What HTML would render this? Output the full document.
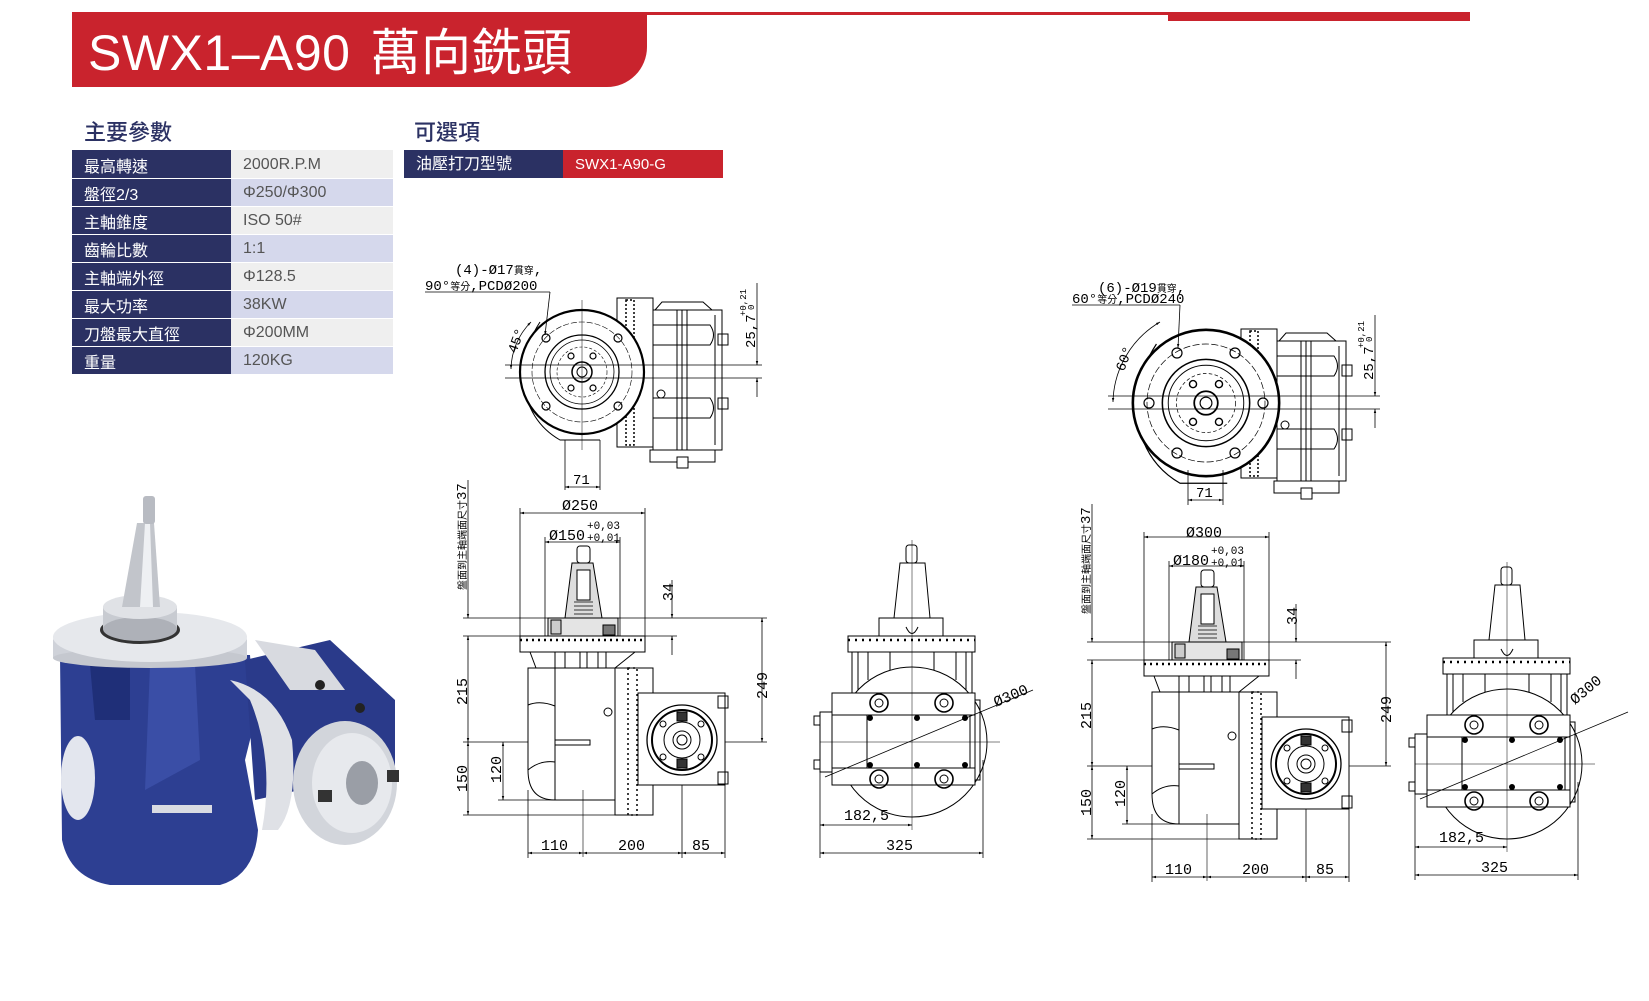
<!DOCTYPE html>
<html><head><meta charset="utf-8">
<style>
html,body{margin:0;padding:0;background:#fff;}
body{width:1649px;height:1001px;position:relative;overflow:hidden;font-family:"Liberation Sans","Noto Sans CJK TC",sans-serif;}
.abs{position:absolute;}
.band{left:72px;top:12px;width:575px;height:75px;background:#c9232d;border-bottom-right-radius:40px;}
.title{left:88px;top:18px;color:#fff;font-size:50px;line-height:62px;white-space:nowrap;letter-spacing:0.5px;}
.title span{font-size:50px;margin-left:20px;font-family:"Noto Sans CJK TC","Liberation Sans",sans-serif;}
.h2{font-size:22px;color:#2b3163;font-family:"Liberation Sans","Noto Sans CJK TC",sans-serif;font-weight:500;}
table{border-collapse:collapse;position:absolute;}
td{height:28px;padding:2px 0 0 12px;font-size:16px;border-bottom:1px solid #fff;box-sizing:border-box;}
td.l{background:#2b3163;color:#fff;width:159px;}
td.v{color:#555;width:162px;}
tr:nth-child(odd) td.v{background:#efefef;}
tr:nth-child(even) td.v{background:#d5d8ec;}
</style></head><body>
<div class="abs band"></div>
<div class="abs" style="left:647px;top:12px;width:521px;height:3px;background:#c9232d"></div>
<div class="abs" style="left:1168px;top:12px;width:302px;height:9px;background:#c9232d"></div>
<div class="abs title">SWX1–A90<span>萬向銑頭</span></div>
<div class="abs h2" style="left:84px;top:115px">主要參數</div>
<div class="abs h2" style="left:414px;top:115px">可選項</div>
<table style="left:72px;top:150px">
<tr><td class="l">最高轉速</td><td class="v">2000R.P.M</td></tr>
<tr><td class="l">盤徑2/3</td><td class="v">Φ250/Φ300</td></tr>
<tr><td class="l">主軸錐度</td><td class="v">ISO 50#</td></tr>
<tr><td class="l">齒輪比數</td><td class="v">1:1</td></tr>
<tr><td class="l">主軸端外徑</td><td class="v">Φ128.5</td></tr>
<tr><td class="l">最大功率</td><td class="v">38KW</td></tr>
<tr><td class="l">刀盤最大直徑</td><td class="v">Φ200MM</td></tr>
<tr><td class="l">重量</td><td class="v">120KG</td></tr>
</table>
<div class="abs" style="left:404px;top:150px;width:147px;height:28px;background:#2b3163;color:#fff;font-size:16px;line-height:30px;padding-left:12px">油壓打刀型號</div>
<div class="abs" style="left:563px;top:150px;width:148px;height:28px;background:#c9232d;color:#fff;font-size:15px;line-height:30px;padding-left:12px">SWX1-A90-G</div>

<svg class="abs" style="left:0;top:0" width="1649" height="1001" viewBox="0 0 1649 1001" font-family="Liberation Sans, Noto Sans CJK TC, sans-serif">
<defs>
<marker id="a" viewBox="0 0 10 10" refX="10" refY="5" markerWidth="7" markerHeight="5" orient="auto-start-reverse"><path d="M0,2 L10,5 L0,8 Z" fill="#000"/></marker>
<g id="tbody" fill="none" stroke="#000" stroke-width="1">
<rect x="617" y="298" width="36" height="149" fill="#fff"/>
<rect x="626" y="300" width="8" height="145" stroke-width="1.5" stroke-dasharray="2 2"/>
<path d="M655,310 L662,302 L703,302 L712,310" />
<rect x="653" y="310" width="69" height="140" fill="#fff"/>
<line x1="677" y1="310" x2="677" y2="450"/><line x1="687" y1="310" x2="687" y2="450"/><line x1="682" y1="310" x2="682" y2="450"/>
<path d="M653,325 H710 Q717,335 710,345 H653"/><path d="M653,398 H710 Q717,408 710,418 H653"/>
<line x1="715" y1="315" x2="715" y2="445"/>
<rect x="718" y="334" width="10" height="11"/><rect x="718" y="398" width="10" height="11"/>
<circle cx="661" cy="394" r="4"/>
<rect x="650" y="450" width="65" height="12" fill="#fff"/>
<rect x="677" y="457" width="11" height="11" fill="#fff"/>
</g>
<g id="tdisc" fill="none" stroke="#000">
<path d="M540,322 Q525,345 522,372 Q525,420 560,440 L600,440" stroke-width="1"/>
<circle cx="582" cy="372" r="62" stroke-width="2.2" fill="#fff"/>
<circle cx="582" cy="372" r="50" stroke-width="0.6" stroke-dasharray="6 2"/>
<circle cx="582" cy="372" r="37" stroke-width="1.3"/>
<circle cx="582" cy="372" r="32" stroke-width="0.8"/>
<circle cx="582" cy="372" r="25" stroke-width="0.6" stroke-dasharray="3 2"/>
<circle cx="582" cy="372" r="10" stroke-width="1.5"/>
<circle cx="582" cy="372" r="5"/>
<g stroke-width="1.2"><circle cx="571" cy="356" r="3"/><circle cx="593" cy="356" r="3"/><circle cx="571" cy="388" r="3"/><circle cx="593" cy="388" r="3"/></g>
</g>
</defs>

<use href="#tbody"/>
<use href="#tdisc"/>
<g fill="none" stroke="#000">
<g stroke-width="1.2"><circle cx="546" cy="338" r="4"/><circle cx="618" cy="338" r="4"/><circle cx="546" cy="406" r="4"/><circle cx="618" cy="406" r="4"/></g>
<line x1="505" y1="365" x2="762" y2="365" stroke-width="0.8"/><line x1="505" y1="378" x2="762" y2="378" stroke-width="0.8"/>
<line x1="582" y1="300" x2="582" y2="450" stroke-width="0.5"/>
<line x1="425" y1="292" x2="550" y2="292" stroke-width="0.8"/>
<line x1="550" y1="292" x2="545" y2="335" stroke-width="0.8" marker-end="url(#a)"/>
<path d="M511,369 A68,68 0 0 1 531,322" stroke-width="0.8" marker-start="url(#a)" marker-end="url(#a)"/>
<line x1="757" y1="283" x2="757" y2="365" stroke-width="0.8" marker-end="url(#a)"/>
<line x1="757" y1="397" x2="757" y2="378" stroke-width="0.8" marker-end="url(#a)"/>
<line x1="565" y1="440" x2="565" y2="490" stroke-width="0.8"/><line x1="600" y1="440" x2="600" y2="490" stroke-width="0.8"/>
<line x1="565" y1="487" x2="600" y2="487" stroke-width="0.8" marker-start="url(#a)" marker-end="url(#a)"/>
</g>
<g font-size="14" fill="#000" font-family="Liberation Mono, Noto Sans CJK TC, monospace">
<text x="455" y="274">(4)-Ø17<tspan font-size="10">貫穿</tspan>,</text>
<text x="425" y="290">90°<tspan font-size="10">等分</tspan>,PCDØ200</text>
<text x="573" y="484">71</text>
<text transform="translate(516,354) rotate(-70)">45°</text>
<text transform="translate(755,348) rotate(-90)">25,7</text>
<text transform="translate(746,316) rotate(-90)" font-size="9">+0,21</text>
<text transform="translate(754,310) rotate(-90)" font-size="9">0</text>
</g>

<use href="#tbody" transform="translate(624,31)"/>
<use href="#tdisc" transform="translate(1206,403) scale(1.18) translate(-582,-372)"/>
<g fill="none" stroke="#000">
<g stroke-width="1.2"><circle cx="1149" cy="403" r="5"/><circle cx="1263" cy="403" r="5"/><circle cx="1177" cy="353" r="5"/><circle cx="1235" cy="353" r="5"/><circle cx="1177" cy="453" r="5"/><circle cx="1235" cy="453" r="5"/></g>
<line x1="1108" y1="396" x2="1380" y2="396" stroke-width="0.8"/><line x1="1108" y1="409" x2="1380" y2="409" stroke-width="0.8"/>
<line x1="1072" y1="305" x2="1180" y2="305" stroke-width="0.8"/>
<line x1="1180" y1="305" x2="1178" y2="348" stroke-width="0.8" marker-end="url(#a)"/>
<path d="M1113,402 A95,95 0 0 1 1160,322" stroke-width="0.8" marker-start="url(#a)" marker-end="url(#a)"/>
<line x1="1375" y1="315" x2="1375" y2="396" stroke-width="0.8" marker-end="url(#a)"/>
<line x1="1375" y1="428" x2="1375" y2="409" stroke-width="0.8" marker-end="url(#a)"/>
<line x1="1188" y1="470" x2="1188" y2="505" stroke-width="0.8"/><line x1="1223" y1="470" x2="1223" y2="505" stroke-width="0.8"/>
<line x1="1188" y1="500" x2="1223" y2="500" stroke-width="0.8" marker-start="url(#a)" marker-end="url(#a)"/>
</g>
<g font-size="14" fill="#000" font-family="Liberation Mono, Noto Sans CJK TC, monospace">
<text x="1098" y="292">(6)-Ø19<tspan font-size="10">貫穿</tspan>,</text>
<text x="1072" y="303">60°<tspan font-size="10">等分</tspan>,PCDØ240</text>
<text x="1196" y="497">71</text>
<text transform="translate(1124,372) rotate(-70)">60°</text>
<text transform="translate(1373,380) rotate(-90)">25,7</text>
<text transform="translate(1364,348) rotate(-90)" font-size="9">+0,21</text>
<text transform="translate(1372,342) rotate(-90)" font-size="9">0</text>
</g>

<defs>
<g id="front" fill="none" stroke="#000" stroke-width="1">
<line x1="468" y1="480" x2="468" y2="618" stroke-width="0.8" marker-end="url(#a)"/>
<line x1="468" y1="636" x2="468" y2="742" stroke-width="0.8" marker-start="url(#a)" marker-end="url(#a)"/>
<line x1="468" y1="742" x2="468" y2="815" stroke-width="0.8" marker-start="url(#a)" marker-end="url(#a)"/>
<line x1="463" y1="618" x2="767" y2="618" stroke-width="0.8"/>
<line x1="463" y1="636" x2="677" y2="636" stroke-width="0.8"/>
<line x1="463" y1="742" x2="767" y2="742" stroke-width="0.8"/>
<line x1="498" y1="800" x2="555" y2="800" stroke-width="0.8"/>
<line x1="463" y1="815" x2="653" y2="815" stroke-width="0.8"/>
<line x1="503" y1="742" x2="503" y2="800" stroke-width="0.8" marker-start="url(#a)" marker-end="url(#a)"/>
<line x1="762" y1="618" x2="762" y2="742" stroke-width="0.8" marker-start="url(#a)" marker-end="url(#a)"/>
<line x1="672" y1="580" x2="672" y2="618" stroke-width="0.8" marker-end="url(#a)"/>
<line x1="672" y1="655" x2="672" y2="636" stroke-width="0.8" marker-end="url(#a)"/>
<line x1="520" y1="508" x2="520" y2="637" stroke-width="0.8"/><line x1="645" y1="508" x2="645" y2="637" stroke-width="0.8"/>
<line x1="520" y1="513" x2="645" y2="513" stroke-width="0.8" marker-start="url(#a)" marker-end="url(#a)"/>
<line x1="545" y1="537" x2="545" y2="637" stroke-width="0.8"/><line x1="620" y1="537" x2="620" y2="637" stroke-width="0.8"/>
<line x1="545" y1="542" x2="620" y2="542" stroke-width="0.8" marker-start="url(#a)" marker-end="url(#a)"/>
<rect x="577" y="546" width="13" height="17" rx="3"/>
<path d="M572,563 L593,563 L602,618 L565,618 Z" fill="#ddd"/>
<rect x="577" y="570" width="13" height="30" fill="#fff"/>
<path d="M574,602 H593 M574,606 H593 M574,610 H593 M574,614 H593" stroke-width="0.7"/>
<rect x="548" y="618" width="70" height="18" fill="#e4e4e4"/>
<rect x="603" y="625" width="12" height="10" fill="#777"/>
<rect x="551" y="620" width="10" height="14" fill="#ccc"/>
<rect x="520" y="636" width="125" height="16" fill="#fff"/>
<path d="M520,640 H645" stroke-width="2.5" stroke-dasharray="2 4"/>
<path d="M530,652 L536,668 M635,652 L615,668 M555,652 V668 M565,652 V668 M598,652 V668 M606,652 V668"/>
<line x1="580" y1="652" x2="580" y2="705"/><line x1="587" y1="652" x2="587" y2="705"/>
<path d="M555,668 V700 Q555,706 560,706 L580,706 M587,706 L605,706 Q612,700 615,690"/>
<path d="M530,668 L615,668 L615,800 L555,800 Q528,800 528,770 L528,668 Z" fill="#fff"/>
<path d="M528,705 Q540,700 555,706 M528,770 Q540,760 555,762"/>
<line x1="555" y1="668" x2="555" y2="800"/>
<rect x="555" y="740" width="35" height="5"/>
<circle cx="608" cy="712" r="4"/>
<line x1="583" y1="790" x2="583" y2="857" stroke-width="0.6"/>
<rect x="615" y="668" width="38" height="147" fill="#fff"/>
<rect x="628" y="668" width="9" height="147" stroke-width="1.5" stroke-dasharray="2 3"/>
<rect x="638" y="693" width="87" height="92" fill="#fff"/>
<circle cx="682" cy="740" r="35" stroke-width="1.3"/>
<circle cx="682" cy="740" r="30" stroke-width="2"/>
<circle cx="682" cy="740" r="18"/>
<circle cx="682" cy="740" r="9"/><circle cx="682" cy="740" r="5"/>
<rect x="677" y="712" width="10" height="9" fill="#333"/><rect x="677" y="759" width="10" height="9" fill="#333"/>
<circle cx="663" cy="724" r="3"/><circle cx="701" cy="724" r="3"/><circle cx="663" cy="757" r="3"/><circle cx="701" cy="757" r="3"/>
<rect x="718" y="696" width="10" height="12"/><rect x="718" y="772" width="10" height="12"/>
<line x1="528" y1="790" x2="528" y2="858" stroke-width="0.8"/><line x1="682" y1="785" x2="682" y2="858" stroke-width="0.8"/><line x1="725" y1="785" x2="725" y2="858" stroke-width="0.8"/>
<line x1="528" y1="853" x2="583" y2="853" stroke-width="0.8" marker-start="url(#a)" marker-end="url(#a)"/>
<line x1="583" y1="853" x2="682" y2="853" stroke-width="0.8" marker-start="url(#a)" marker-end="url(#a)"/>
<line x1="682" y1="853" x2="725" y2="853" stroke-width="0.8" marker-start="url(#a)" marker-end="url(#a)"/>
</g>
<g id="frontText" font-size="15" fill="#000" font-family="Liberation Mono, Noto Sans CJK TC, monospace">
<text transform="translate(466,590) rotate(-90)" font-size="10">盤面到主軸端面尺寸<tspan font-size="14">37</tspan></text>
<text transform="translate(467,705) rotate(-90)">215</text>
<text transform="translate(467,792) rotate(-90)">150</text>
<text transform="translate(501,783) rotate(-90)">120</text>
<text transform="translate(767,699) rotate(-90)">249</text>
<text transform="translate(673,601) rotate(-90)">34</text>
<text x="541" y="850">110</text><text x="618" y="850">200</text><text x="692" y="850">85</text>
</g>
<g id="side" fill="none" stroke="#000" stroke-width="1">
<rect x="906" y="545" width="11" height="18" rx="3"/>
<path d="M900,563 L925,563 L930,618 L894,618 Z" fill="#fff"/>
<rect x="879" y="618" width="64" height="18" fill="#fff"/>
<path d="M906,627 Q912,640 918,627"/>
<rect x="848" y="636" width="127" height="16" fill="#fff"/>
<path d="M848,640 H975" stroke-width="2.5" stroke-dasharray="2 5"/>
<path d="M852,652 V693 M858,652 V693 M868,652 V680 M890,652 V680 M934,652 V680 M956,652 V680 M966,652 V693 M972,652 V693"/>
<circle cx="912" cy="742" r="75" fill="#fff"/>
<rect x="832" y="693" width="143" height="92" fill="#fff"/>
<line x1="832" y1="715" x2="975" y2="715"/><line x1="832" y1="768" x2="975" y2="768"/>
<rect x="867" y="715" width="103" height="53"/>
<rect x="975" y="700" width="5" height="80"/>
<g stroke-width="1.6"><circle cx="879" cy="703" r="9"/><circle cx="944" cy="703" r="9"/><circle cx="879" cy="779" r="9"/><circle cx="944" cy="779" r="9"/></g>
<g stroke-width="1"><circle cx="879" cy="703" r="4"/><circle cx="944" cy="703" r="4"/><circle cx="879" cy="779" r="4"/><circle cx="944" cy="779" r="4"/></g>
<g fill="#000"><circle cx="870" cy="718" r="2.5"/><circle cx="917" cy="718" r="2.5"/><circle cx="965" cy="718" r="2.5"/><circle cx="870" cy="765" r="2.5"/><circle cx="917" cy="765" r="2.5"/><circle cx="965" cy="765" r="2.5"/></g>
<rect x="820" y="712" width="12" height="60"/>
<rect x="814" y="716" width="6" height="9"/><rect x="814" y="760" width="6" height="9"/>
<line x1="912" y1="540" x2="912" y2="830" stroke-width="0.5"/>
<line x1="820" y1="742" x2="1000" y2="742" stroke-width="0.5"/>
<line x1="825" y1="777" x2="1033" y2="690" stroke-width="0.8"/>
<line x1="820" y1="770" x2="820" y2="858" stroke-width="0.8"/><line x1="983" y1="760" x2="983" y2="858" stroke-width="0.8"/>
<line x1="820" y1="825" x2="912" y2="825" stroke-width="0.8" marker-start="url(#a)" marker-end="url(#a)"/>
<line x1="820" y1="853" x2="983" y2="853" stroke-width="0.8" marker-start="url(#a)" marker-end="url(#a)"/>
</g>
<g id="sideText" font-size="15" fill="#000" font-family="Liberation Mono, Noto Sans CJK TC, monospace">
<text x="844" y="820">182,5</text>
<text x="886" y="850">325</text>
</g>
</defs>

<use href="#front"/><use href="#frontText"/>
<g font-size="15" fill="#000" font-family="Liberation Mono, monospace"><text x="562" y="510">Ø250</text><text x="549" y="540">Ø150</text><text x="587" y="529" font-size="11">+0,03</text><text x="587" y="541" font-size="11">+0,01</text></g>
<use href="#side"/><use href="#sideText"/>
<text transform="translate(996,707) rotate(-23)" font-size="15" font-family="Liberation Mono, monospace">Ø300</text>

<use href="#front" transform="translate(624,24)"/><use href="#frontText" transform="translate(624,24)"/>
<g font-size="15" fill="#000" font-family="Liberation Mono, monospace"><text x="1186" y="537">Ø300</text><text x="1173" y="565">Ø180</text><text x="1211" y="554" font-size="11">+0,03</text><text x="1211" y="566" font-size="11">+0,01</text></g>
<use href="#side" transform="translate(595,22)"/><use href="#sideText" transform="translate(595,22)"/>
<text transform="translate(1575,705) rotate(-40)" font-size="15" font-family="Liberation Mono, monospace">Ø300</text>

<g>
<path d="M60,655 L250,655 L255,720 L245,760 L258,830 Q255,875 220,885 L110,885 Q70,878 62,840 Z" fill="#2d3f92"/>
<path d="M90,665 L130,665 L130,720 L95,720 Z" fill="#1f2f78"/>
<path d="M150,665 L195,665 L200,760 L145,790 Z" fill="#3a4ea6"/>
<path d="M245,660 L330,640 L395,700 L395,780 L300,790 L255,800 Z" fill="#2a3a8a"/>
<ellipse cx="78" cy="778" rx="17" ry="42" fill="#e3e6ee"/>
<rect x="152" y="805" width="60" height="8" fill="#d9dbe2"/>
<path d="M230,680 Q275,690 292,740 Q298,805 278,830 L262,830 Q275,760 250,700 Z" fill="#dfe1e6"/>
<path d="M255,640 L315,650 L345,690 L290,690 Z" fill="#d8dae0"/>
<ellipse cx="150" cy="640" rx="97" ry="27" fill="#d9dce2"/>
<rect x="53" y="640" width="194" height="18" fill="#cfd2d9"/>
<ellipse cx="150" cy="658" rx="97" ry="10" fill="#c5c8cf"/>
<ellipse cx="150" cy="637" rx="97" ry="25" fill="#e6e8ec"/>
<ellipse cx="140" cy="630" rx="40" ry="14" fill="#333"/>
<rect x="103" y="607" width="74" height="22" fill="#c8cbd1"/>
<ellipse cx="140" cy="629" rx="37" ry="12" fill="#aeb1b8"/>
<ellipse cx="140" cy="607" rx="37" ry="12" fill="#e0e2e6"/>
<path d="M137,523 L154,523 L160,607 L122,607 Z" fill="#c2c5cb"/>
<path d="M145,523 L150,523 L153,607 L140,607 Z" fill="#eef0f3"/>
<rect x="143" y="496" width="12" height="28" rx="3" fill="#b8bbc2"/>
<ellipse cx="345" cy="783" rx="52" ry="62" fill="#d2d5db"/>
<ellipse cx="352" cy="783" rx="40" ry="50" fill="#e7e9ed"/>
<ellipse cx="362" cy="783" rx="16" ry="22" fill="#9a9ea6"/>
<rect x="318" y="790" width="14" height="12" fill="#333"/>
<rect x="387" y="770" width="12" height="12" fill="#333"/>
<circle cx="320" cy="685" r="5" fill="#222"/><circle cx="360" cy="708" r="5" fill="#222"/>
</g>
</svg>
</body></html>
